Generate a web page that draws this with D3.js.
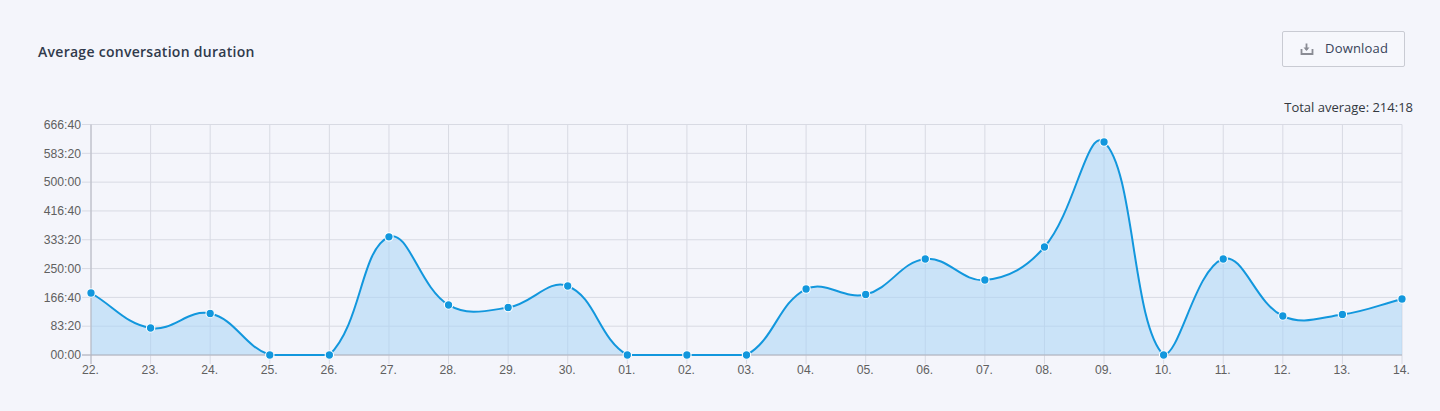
<!DOCTYPE html>
<html><head><meta charset="utf-8">
<script src="https://cdn.jsdelivr.net/npm/d3@7"></script>
<style>
html,body{margin:0;padding:0;background:#f4f5fb;overflow:hidden}
svg{display:block}
</style></head><body>
<svg id="c" width="1440" height="411"></svg>
<script>
const categories = ["22.","23.","24.","25.","26.","27.","28.","29.","30.","01.","02.","03.","04.","05.","06.","07.","08.","09.","10.","11.","12.","13.","14."];
const durations = [10760,4685,7200,0,0,20500,8680,8240,11975,0,0,0,11450,10500,16660,13015,18740,36960,0,16660,6770,7030,9720];
const yTicks = [0,5000,10000,15000,20000,25000,30000,35000,40000];
const titleText = "Average conversation duration";
const totalText = "Total average: 214:18";
const buttonText = "Download";

const svg = d3.select("#c");
const L=91,R=1402,T=124.5,B=355;
const x = d3.scalePoint().domain(categories).range([L,R]);
const y = d3.scaleLinear().domain([0,40000]).range([B,T]);
const fmt = s => { const m=Math.floor(s/60), r=s%60; return String(m).padStart(2,"0")+":"+String(r).padStart(2,"0"); };

// cardinal spline with distance-weighted tangents, capped to the plot area
function weightedSpline(context){
  const pts=[];
  return {
    areaStart(){this._a=1}, areaEnd(){this._a=0},
    lineStart(){pts.length=0},
    point(px,py){pts.push([+px,+py])},
    lineEnd(){
      const t=0.4,n=pts.length,cp=[];
      for(let i=0;i<n;i++){
        const c=pts[i],p=pts[Math.max(i-1,0)],q=pts[Math.min(i+1,n-1)];
        const d1=Math.hypot(c[0]-p[0],c[1]-p[1]),d2=Math.hypot(q[0]-c[0],q[1]-c[1]);
        const s1=d1/(d1+d2||1),s2=d2/(d1+d2||1);
        const cap=v=>Math.min(B,Math.max(T,v));
        cp.push({
          a:[c[0]-t*s1*(q[0]-p[0]),cap(c[1]-t*s1*(q[1]-p[1]))],
          b:[c[0]+t*s2*(q[0]-p[0]),cap(c[1]+t*s2*(q[1]-p[1]))]
        });
      }
      pts.forEach((c,i)=>{
        if(i===0){ if(this._a) context.lineTo(c[0],c[1]); else context.moveTo(c[0],c[1]); }
        else context.bezierCurveTo(cp[i-1].b[0],cp[i-1].b[1],cp[i].a[0],cp[i].a[1],c[0],c[1]);
      });
      if(this._a) {context.closePath();}
    }
  };
}
const curve = ctx => weightedSpline(ctx);

const gridColor="#d8dae3";
const g = svg.append("g");
g.selectAll(".h").data(yTicks).join("line")
  .attr("x1",L-9).attr("x2",R).attr("y1",d=>y(d)).attr("y2",d=>y(d))
  .attr("stroke",gridColor).attr("stroke-width",1);
g.selectAll(".v").data(categories).join("line")
  .attr("x1",d=>x(d)).attr("x2",d=>x(d)).attr("y1",T).attr("y2",B+9)
  .attr("stroke",gridColor).attr("stroke-width",1);

const line = d3.line().x((d,i)=>x(categories[i])).y(d=>y(d)).curve(curve);
const linePath = line(durations);
svg.append("path").attr("d",linePath+`L${R},${B}L${L},${B}Z`).attr("fill","#a8d4f5").attr("fill-opacity",0.55);
svg.append("line").attr("x1",L).attr("x2",L).attr("y1",T).attr("y2",B+9).attr("stroke","#b4b6c0");
svg.append("line").attr("x1",L-9).attr("x2",R).attr("y1",B).attr("y2",B).attr("stroke","#aeb0ba");
svg.append("path").attr("d",linePath).attr("fill","none").attr("stroke","#1297dd").attr("stroke-width",2);
svg.selectAll(".pt").data(durations).join("circle")
  .attr("cx",(d,i)=>x(categories[i])).attr("cy",d=>y(d)).attr("r",4.2)
  .attr("fill","#1297dd").attr("stroke","#fff").attr("stroke-width",1.1);

const tickFont="'Liberation Sans',Arial,sans-serif";
svg.selectAll(".yl").data(yTicks).join("text")
  .attr("x",L-10).attr("y",d=>y(d)+4.3).attr("text-anchor","end")
  .attr("font-family",tickFont).attr("font-size",12.2).attr("fill","#606060").text(fmt);
svg.selectAll(".xl").data(categories).join("text")
  .attr("x",(d,i)=>x(d)-0.5).attr("y",374).attr("text-anchor","middle")
  .attr("font-family",tickFont).attr("font-size",12.2).attr("fill","#606060").text(d=>d);

const uiFont="'Open Sans',sans-serif";
svg.append("text").attr("x",38).attr("y",57).attr("font-family",uiFont).attr("font-size",14).attr("font-weight",600)
  .attr("letter-spacing",0.28).attr("fill","#303a4b").text(titleText);
svg.append("text").attr("x",1413).attr("y",112).attr("text-anchor","end").attr("font-family",uiFont).attr("font-size",13)
  .attr("fill","#33383f").text(totalText);
svg.append("rect").attr("x",1282.5).attr("y",31.5).attr("width",122).attr("height",35).attr("rx",1.5)
  .attr("fill","#f6f7fc").attr("stroke","#c9cbd3");
svg.append("text").attr("x",1325).attr("y",53).attr("font-family",uiFont).attr("font-size",13).attr("letter-spacing",0.2)
  .attr("fill","#38435a").text(buttonText);
svg.append("path").attr("d","M1301.5,49v5h11v-5M1306.5,43.5v6.5").attr("fill","none").attr("stroke","#8a8c94").attr("stroke-width",1.8);
svg.append("path").attr("d","M1303.5,47.5h6l-3,3.5z").attr("fill","#8a8c94");
</script>
</body></html>
